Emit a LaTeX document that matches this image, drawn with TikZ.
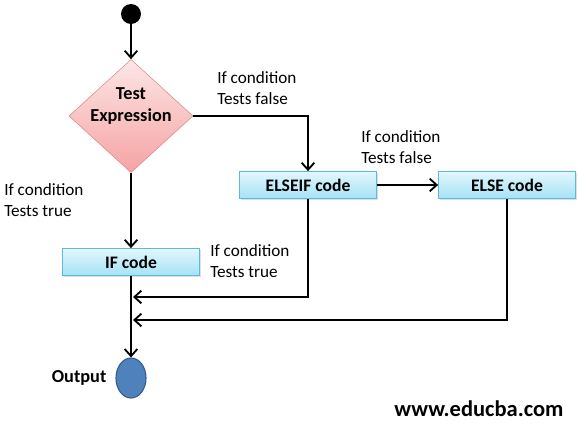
\documentclass[tikz,border=0pt]{standalone}
\usepackage{fontspec}
\setmainfont{Carlito}
\usetikzlibrary{shapes.geometric,arrows.meta,positioning,shadows}
\definecolor{pinktop}{HTML}{FDE6E6}
\definecolor{pinkbot}{HTML}{F5A3A3}
\definecolor{pinkline}{HTML}{D98C8B}
\definecolor{cyantop}{HTML}{E2F7FD}
\definecolor{cyanbot}{HTML}{A5E2F5}
\definecolor{cyanline}{HTML}{5DB9D5}
\definecolor{outfill}{HTML}{4F81BD}
\definecolor{outline}{HTML}{385D8A}
\tikzset{
  flow/.style={line width=1.3pt, -{Straight Barb[length=5pt,width=9pt]}},
  plain/.style={line width=1.3pt},
  codebox/.style={draw=cyanline, top color=cyantop, bottom color=cyanbot,
    minimum width=3.43cm, minimum height=0.68cm, inner sep=0pt,
    font=\fontsize{12.5}{14}\selectfont\bfseries,
    drop shadow={opacity=0.25, shadow xshift=1pt, shadow yshift=-1pt}},
  cond/.style={align=left, inner sep=0pt, anchor=west,
    font=\fontsize{12.2}{15}\selectfont}
}
\begin{document}
\begin{tikzpicture}[x=0.025cm, y=-0.025cm]
  \useasboundingbox (0,0) rectangle (579,428);
  % start and test
  \node[circle, fill=black, minimum size=0.5cm, inner sep=0pt] (start) at (131,14) {};
  \node[diamond, draw=pinkline, top color=pinktop, bottom color=pinkbot,
        minimum width=3.1cm, minimum height=2.83cm, inner sep=0pt] (test) at (131,116) {};
  \node[align=center, font=\fontsize{13}{16}\selectfont\bfseries] (testtxt) at (131,106) {Test\\Expression};
  % code boxes
  \node[codebox] (elseif) at (308,185) {ELSEIF code};
  \node[codebox] (else) at (507,185) {ELSE code};
  \node[codebox] (ifcode) at (131,262) {IF code};
  % output
  \node[ellipse, draw=outline, fill=outfill, minimum width=0.75cm, minimum height=1cm,
        inner sep=0pt, line width=0.8pt] (out) at (131,378) {};
  \node[left=0.22cm of out, font=\fontsize{13}{15}\selectfont\bfseries, inner sep=0pt] (outtxt) {Output};
  \coordinate (m1) at (133,297);
  \coordinate (m2) at (133,320);
  % connectors
  \draw[flow] (start) -- (test);
  \draw[flow] (test.south) -- (ifcode.north);
  \draw[flow] (ifcode) -- (out);
  \draw[flow] (test.east) -| (elseif.north);
  \draw[flow] (elseif) -- (else);
  \draw[flow] (elseif.south) |- (m1);
  \draw[flow] (else.south) |- (m2);
  % labels
  \node[cond] (c1) at (217,88.5) {If condition\\Tests false};
  \node[cond] (c2) at (361,147.5) {If condition\\Tests false};
  \node[cond] (c3) at (4,200.5) {If condition\\Tests true};
  \node[cond] (c4) at (210,261.5) {If condition\\Tests true};
  \node[font=\fontsize{16}{18}\selectfont\bfseries] (site) at (479,409) {www.educba.com};
\end{tikzpicture}
\end{document}
